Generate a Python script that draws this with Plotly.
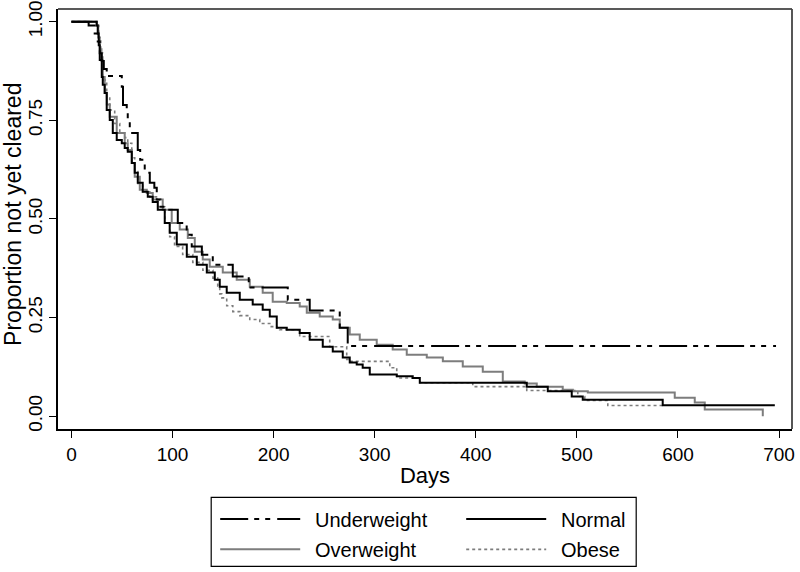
import plotly.graph_objects as go

# ---------------- data ----------------
underweight_days = [0, 17, 23, 26, 28, 30, 32, 34.9, 49.8, 51, 54.7, 55.7, 57.7, 65.6, 68, 72.5,
                    77.5, 82, 84.4, 88, 94.3, 105.2, 114, 119, 129, 139.8, 159.6, 175.4, 214,
                    235.7, 265.4, 273.3, 697]
underweight_surv = [1.0, 0.99, 0.97, 0.95, 0.92, 0.90, 0.88, 0.862, 0.835, 0.789, 0.769, 0.746,
                    0.718, 0.675, 0.65, 0.617, 0.592, 0.579, 0.549, 0.531, 0.523, 0.49, 0.46,
                    0.43, 0.409, 0.384, 0.354, 0.326, 0.295, 0.268, 0.224, 0.178, 0.178]

normal_days = [0, 25, 26, 27, 28, 30, 31, 32.9, 34.9, 37.9, 40.9, 44.8, 49.8, 52.7, 55.7, 59.7,
               62.6, 65.6, 70.5, 75.5, 80.4, 85.4, 92.3, 97.2, 104.2, 114.1, 124, 133.9, 141.8,
               146.7, 153.6, 166.5, 179.3, 189.2, 196.2, 203.1, 213, 225.8, 235.7, 248.6, 258.5,
               268.4, 275.3, 282.2, 288.1, 295.1, 321.8, 337.6, 344.6, 450.4, 471.2, 494.9,
               505.8, 584.9, 695.8]
normal_surv = [1.0, 0.99, 0.97, 0.94, 0.903, 0.86, 0.84, 0.819, 0.776, 0.751, 0.718, 0.70, 0.692,
               0.68, 0.67, 0.642, 0.617, 0.592, 0.569, 0.556, 0.543, 0.523, 0.49, 0.465, 0.435,
               0.404, 0.384, 0.364, 0.346, 0.328, 0.313, 0.295, 0.283, 0.27, 0.253, 0.224, 0.219,
               0.211, 0.194, 0.176, 0.164, 0.149, 0.136, 0.131, 0.123, 0.106, 0.101, 0.097, 0.085,
               0.075, 0.063, 0.05, 0.042, 0.028, 0.028]

overweight_days = [0, 25, 26.5, 28, 29.7, 31, 32.9, 35, 37.9, 44.8, 52.7, 55.7, 59.7, 62.6, 67.6,
                   74.5, 80.4, 90.3, 99.2, 107.1, 115.1, 122, 129.9, 136.8, 149.7, 163.5, 176.4,
                   189.2, 199.1, 213, 225.8, 232.8, 245.6, 258.5, 265.4, 275.3, 285.2, 302, 317.8,
                   331.7, 351.5, 367.4, 387.1, 406.9, 426.7, 448.4, 460.3, 486, 496, 510.8, 596.8,
                   616.6, 626.5, 683.9]
overweight_surv = [1.0, 0.99, 0.96, 0.93, 0.903, 0.86, 0.819, 0.79, 0.759, 0.718, 0.692, 0.675,
                   0.642, 0.607, 0.574, 0.566, 0.549, 0.523, 0.49, 0.473, 0.452, 0.417, 0.397,
                   0.379, 0.364, 0.346, 0.328, 0.313, 0.29, 0.287, 0.278, 0.262, 0.253, 0.245,
                   0.224, 0.207, 0.194, 0.181, 0.169, 0.156, 0.149, 0.139, 0.126, 0.113, 0.088,
                   0.083, 0.075, 0.067, 0.063, 0.06, 0.047, 0.035, 0.017, 0.0]

obese_days = [0, 25, 27, 29, 31, 34.9, 37.9, 42.8, 47.8, 52.7, 55.7, 59.7, 62.6, 65.6, 70.5, 77.5,
              85.4, 92.3, 97.2, 102, 110, 120, 130, 140, 144.7, 146.7, 148.7, 153.6, 159.6, 166.5,
              176.4, 186.3, 196.2, 203.1, 206, 225.8, 255.5, 272.3, 275.3, 314.9, 321.8, 344.6,
              397, 450.4, 500.9, 507.8, 530.6, 584.9]
obese_surv = [1.0, 0.99, 0.96, 0.92, 0.852, 0.81, 0.776, 0.742, 0.718, 0.706, 0.692, 0.655, 0.62,
              0.59, 0.569, 0.556, 0.531, 0.49, 0.455, 0.43, 0.41, 0.39, 0.37, 0.35, 0.33, 0.31,
              0.30, 0.28, 0.265, 0.255, 0.245, 0.235, 0.227, 0.224, 0.219, 0.202, 0.176, 0.144,
              0.139, 0.123, 0.097, 0.085, 0.075, 0.065, 0.05, 0.04, 0.027, 0.027]

x_ticks = [0, 100, 200, 300, 400, 500, 600, 700]
y_ticks = [0.0, 0.25, 0.5, 0.75, 1.0]
x_title = "Days"
y_title = "Proportion not yet cleared"
legend_names = ["Underweight", "Normal", "Overweight", "Obese"]

# ---------------- styling ----------------
FONT = "Liberation Sans, Arial, Helvetica, sans-serif"
W, H = 800, 572
ML, MR, MT, MB = 58.3, 7.7, 9, 142.5
GRAY = "#7d7d7d"
DASHDOT = "28px,6px,5px,6px,5px,7px"

styles = {
    "Underweight": dict(color="black", width=2, dash=DASHDOT),
    "Normal": dict(color="black", width=2, dash="solid"),
    "Overweight": dict(color=GRAY, width=2, dash="solid"),
    "Obese": dict(color=GRAY, width=1.6, dash="3px,3px"),
}

series = {
    "Underweight": (underweight_days, underweight_surv),
    "Normal": (normal_days, normal_surv),
    "Overweight": (overweight_days, overweight_surv),
    "Obese": (obese_days, obese_surv),
}

fig = go.Figure()
for name in ["Obese", "Overweight", "Normal", "Underweight"]:
    xs, ys = series[name]
    fig.add_trace(go.Scatter(x=xs, y=ys, mode="lines", name=name,
                             line=dict(shape="hv", **styles[name]),
                             showlegend=False, hoverinfo="skip"))

fig.update_layout(
    width=W, height=H,
    margin=dict(l=ML, r=MR, t=MT, b=MB, autoexpand=False),
    paper_bgcolor="white", plot_bgcolor="white",
    font=dict(family=FONT, color="black"),
    showlegend=False,
)
fig.update_xaxes(range=[-13.3, 712.8], tickvals=x_ticks, ticks="outside", ticklen=7,
                 tickwidth=1.3, tickcolor="black", showline=True, linecolor="black",
                 linewidth=1.5, showgrid=False, zeroline=False, ticklabeloverflow="allow",
                 tickfont=dict(size=19), title=dict(text=x_title, font=dict(size=22), standoff=4))
fig.update_yaxes(range=[-0.0324, 1.0321], tickvals=y_ticks, tickformat=".2f", tickangle=-90,
                 ticks="outside", ticklen=7, tickwidth=1.3, tickcolor="black", showline=True,
                 linecolor="black", linewidth=1.5, showgrid=False, zeroline=False,
                 ticklabeloverflow="allow", tickfont=dict(size=19))

# top / right frame of the plot region
fig.add_shape(type="line", xref="paper", yref="paper", x0=0, x1=1, y0=1, y1=1,
              line=dict(color="#222222", width=1.3))
fig.add_shape(type="line", xref="paper", yref="paper", x0=1, x1=1, y0=0, y1=1,
              line=dict(color="#444444", width=1.8))

# ---------------- pixel layout -> paper coords ----------------
PW, PH = W - ML - MR, H - MT - MB


def px(x):
    return (x - ML) / PW


def py(y):
    return (H - MB - y) / PH


# y-axis title placed explicitly beside the rotated tick labels
fig.add_annotation(xref="paper", yref="paper", x=px(14), y=py(214.5), text=y_title,
                   textangle=-90, showarrow=False, xanchor="center", yanchor="middle",
                   borderpad=0, font=dict(size=23, family=FONT, color="black"))

# custom legend
fig.add_shape(type="rect", xref="paper", yref="paper", x0=px(211.5), x1=px(636.5),
              y0=py(567), y1=py(498), line=dict(color="black", width=1.2), fillcolor="white")

legend_slots = {
    "Underweight": (220.5, 519.5),
    "Normal": (466.5, 519.5),
    "Overweight": (220.5, 550),
    "Obese": (466.5, 550),
}
for name in legend_names:
    sx, sy = legend_slots[name]
    st = styles[name]
    fig.add_shape(type="line", xref="paper", yref="paper", x0=px(sx), x1=px(sx + 80),
                  y0=py(sy), y1=py(sy), line=dict(color=st["color"], width=st["width"],
                                                  dash=st["dash"]))
    fig.add_annotation(xref="paper", yref="paper", x=px(sx + 92.5), y=py(sy + 1),
                       text=name, showarrow=False, xanchor="left", yanchor="middle",
                       font=dict(size=20, family=FONT, color="black"))

fig.write_html("out.html", config={"displayModeBar": False},
               post_script="document.body.style.margin='0';document.body.style.padding='0';")
